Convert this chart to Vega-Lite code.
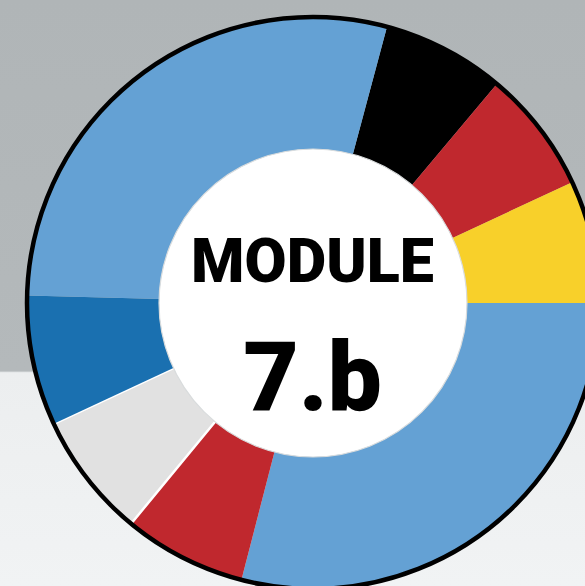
{
  "$schema": "https://vega.github.io/schema/vega-lite/v6.json",
  "width": 585,
  "height": 586,
  "padding": 0,
  "autosize": "none",
  "background": "#b1b6b8",
  "config": {"view": {"stroke": null}},
  "layer": [
    {
      "data": {"values": [{"backdrop": "wall"}]},
      "mark": {
        "type": "rect",
        "color": {
          "gradient": "linear",
          "x1": 0, "y1": 0, "x2": 0, "y2": 1,
          "stops": [
            {"offset": 0, "color": "#b0b5b7"},
            {"offset": 0.633, "color": "#b4b9bb"},
            {"offset": 0.636, "color": "#eceeef"},
            {"offset": 1, "color": "#f1f3f4"}
          ]
        }
      },
      "encoding": {}
    },
    {
      "data": {
        "values": [
          {"idx": 1, "kind": "black", "value": 25},
          {"idx": 2, "kind": "red", "value": 25},
          {"idx": 3, "kind": "yellow", "value": 25},
          {"idx": 4, "kind": "lightblue", "value": 104.5},
          {"idx": 5, "kind": "red", "value": 25},
          {"idx": 6, "kind": "gray", "value": 25.5},
          {"idx": 7, "kind": "darkblue", "value": 26.5},
          {"idx": 8, "kind": "lightblue", "value": 103.5}
        ]
      },
      "mark": {"type": "arc", "outerRadius": 286, "innerRadius": 0, "xOffset": 20.5, "yOffset": 10, "stroke": "white"},
      "encoding": {
        "theta": {"field": "value", "type": "quantitative", "stack": true, "scale": {"range": [0.2618, 6.545]}},
        "order": {"field": "idx", "type": "quantitative"},
        "color": {
          "field": "kind",
          "type": "nominal",
          "legend": null,
          "scale": {
            "domain": ["lightblue", "black", "red", "yellow", "darkblue", "gray"],
            "range": ["#64a1d4", "#000000", "#c0282e", "#f8d02a", "#1a70b0", "#e1e1e1"]
          }
        },
        "strokeWidth": {"condition": {"test": "datum.kind === 'gray'", "value": 2.5}, "value": 0}
      }
    },
    {
      "data": {"values": [{"ring": "outer"}]},
      "mark": {"type": "arc", "outerRadius": 286, "innerRadius": 0, "xOffset": 20.5, "yOffset": 10, "fill": "transparent", "stroke": "#000000", "strokeWidth": 4.5},
      "encoding": {}
    },
    {
      "data": {"values": [{"ring": "inner"}]},
      "mark": {"type": "arc", "outerRadius": 154, "innerRadius": 0, "xOffset": 20.5, "yOffset": 10, "fill": "#ffffff", "stroke": "#d9dcdd", "strokeWidth": 1.2},
      "encoding": {}
    },
    {
      "data": {"values": [{"label": "MODULE"}]},
      "mark": {"type": "text", "font": "Roboto", "fontWeight": 900, "fontSize": 61, "color": "#000000", "align": "center", "baseline": "alphabetic", "xOffset": 20, "yOffset": 10, "dy": -21},
      "encoding": {"text": {"field": "label", "type": "nominal"}}
    },
    {
      "data": {"values": [{"label": "7.b"}]},
      "mark": {"type": "text", "font": "Roboto", "fontWeight": 900, "fontSize": 96, "color": "#000000", "align": "center", "baseline": "alphabetic", "xOffset": 20, "yOffset": 10, "dy": 107},
      "encoding": {"text": {"field": "label", "type": "nominal"}}
    }
  ]
}
